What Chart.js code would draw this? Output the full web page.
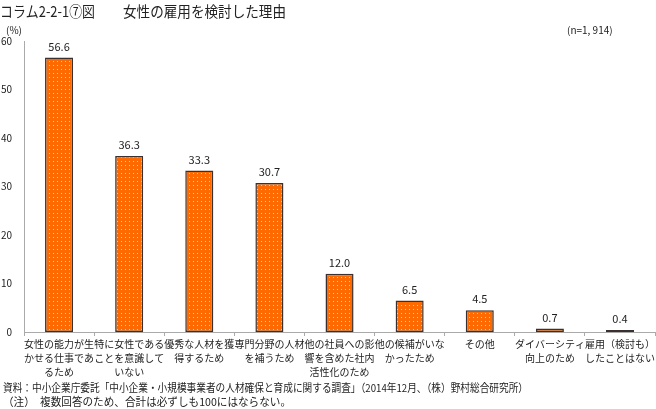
<!DOCTYPE html>
<html>
<head>
<meta charset="utf-8">
<script src="https://cdn.jsdelivr.net/npm/chart.js@4"></script>
<style>
html, body { margin: 0; padding: 0; background: #fff; }
</style>
</head>
<body>
<canvas id="chart" width="656" height="409"></canvas>
<script>
const categories = [
  ["女性の能力が生", "かせる仕事であ", "るため"],
  ["特に女性である", "ことを意識して", "いない"],
  ["優秀な人材を獲", "得するため"],
  ["専門分野の人材", "を補うため"],
  ["他の社員への影", "響を含めた社内", "活性化のため"],
  ["他の候補がいな", "かったため"],
  ["その他"],
  ["ダイバーシティ", "向上のため"],
  ["雇用（検討も）", "したことはない"]
];
const values = [56.6, 36.3, 33.3, 30.7, 12.0, 6.5, 4.5, 0.7, 0.4];
const yMax = 60;
const yStep = 10;

const titleLeft = "コラム2-2-1⑦図";
const titleRight = "女性の雇用を検討した理由";
const unitLabel = "(%)";
const sampleLabel = "(n=1, 914)";
const sourceNote = "資料：中小企業庁委託「中小企業・小規模事業者の人材確保と育成に関する調査」（2014年12月、（株）野村総合研究所）";
const footNote = "（注）　複数回答のため、合計は必ずしも100にはならない。";

const FONT = "'Noto Sans CJK JP', 'Noto Sans', sans-serif";

// orange with fine light dots
function makePattern() {
  const p = document.createElement("canvas");
  p.width = 4; p.height = 4;
  const g = p.getContext("2d");
  g.fillStyle = "#ff6a00";
  g.fillRect(0, 0, 4, 4);
  g.fillStyle = "#ffc48f";
  g.fillRect(1, 1, 1, 1);
  return g.createPattern(p, "repeat");
}

const textPlugin = {
  id: "texts",
  afterDatasetsDraw(chart) {
    const ctx = chart.ctx;
    ctx.save();
    ctx.fillStyle = "#222";
    ctx.textBaseline = "middle";

    // value labels
    ctx.font = "11px " + FONT;
    ctx.textAlign = "center";
    chart.getDatasetMeta(0).data.forEach((bar, i) => {
      ctx.fillText(values[i].toFixed(1), bar.x, bar.y - 11);
    });

    // title
    ctx.textAlign = "left";
    ctx.font = "15px " + FONT;
    ctx.fillText(titleLeft, 0, 11, 95);
    ctx.fillText(titleRight, 123, 11, 163);

    // unit and n
    ctx.font = "10px " + FONT;
    ctx.fillText(unitLabel, 6, 30);
    ctx.fillText(sampleLabel, 567, 30);

    // notes
    ctx.font = "11px " + FONT;
    ctx.fillText(sourceNote, 3, 388, 525);
    ctx.fillText(footNote, 3, 402, 288);
    ctx.restore();
  }
};

new Chart(document.getElementById("chart"), {
  type: "bar",
  data: {
    labels: categories,
    datasets: [{
      data: values,
      backgroundColor: makePattern(),
      borderColor: "#3a3030",
      borderWidth: 1.5,
      borderSkipped: false,
      categoryPercentage: 1.0,
      barPercentage: 0.4
    }]
  },
  options: {
    responsive: false,
    animation: false,
    layout: { padding: { top: 41, bottom: 32, left: 0, right: 0 } },
    plugins: {
      legend: { display: false },
      tooltip: { enabled: false }
    },
    scales: {
      x: {
        grid: {
          offset: true,
          drawOnChartArea: false,
          drawTicks: true,
          tickLength: 4,
          color: "#aaa"
        },
        border: { display: true, color: "#aaa", width: 1 },
        ticks: {
          autoSkip: false,
          maxRotation: 0,
          minRotation: 0,
          padding: 1,
          color: "#222",
          font: { family: FONT, size: 10, lineHeight: 1.4 }
        },
        afterFit(scale) { scale.height = 45; }
      },
      y: {
        min: 0,
        max: yMax,
        grid: { display: false, drawTicks: false },
        border: { display: true, color: "#aaa", width: 1 },
        ticks: {
          stepSize: yStep,
          padding: 12,
          color: "#222",
          font: { family: FONT, size: 10 }
        },
        afterFit(scale) { scale.width = 24; }
      }
    }
  },
  plugins: [textPlugin]
});
</script>
</body>
</html>
